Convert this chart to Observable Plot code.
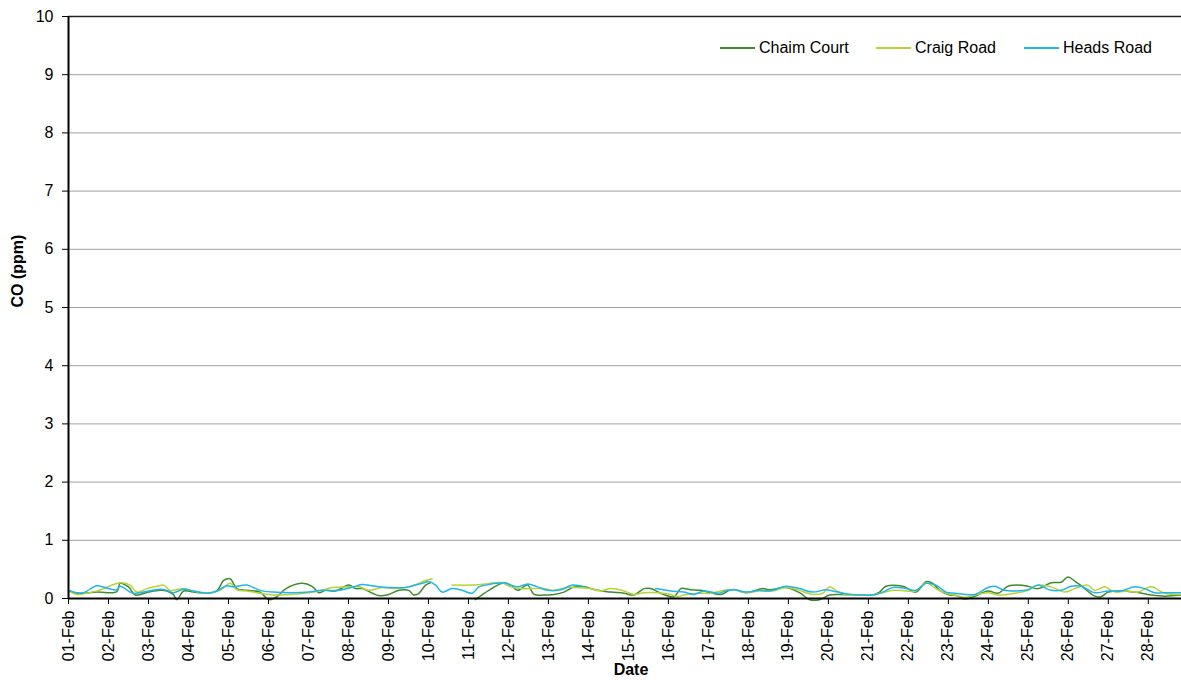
<!DOCTYPE html>
<html><head><meta charset="utf-8">
<script src="https://cdn.jsdelivr.net/npm/d3@7"></script>
<script src="https://cdn.jsdelivr.net/npm/@observablehq/plot@0.6"></script>
<style>
body{margin:0;background:#fff;font-family:"Liberation Sans",Arial,sans-serif;overflow:hidden}
#wrap{position:relative;width:1181px;height:680px}
.leg{position:absolute;top:39px;font-size:16px;line-height:18px;color:#000;display:flex;align-items:center;white-space:nowrap}
.leg .sw{display:inline-block;width:35px;height:0;border-top:2px solid;margin-right:4px}
</style></head><body><div id="wrap"></div>
<script>
// Series names and colours
const seriesNames = ["Chaim Court", "Craig Road", "Heads Road"];
const seriesColors = ["#3e8b2e", "#b6d43a", "#22b4ec"];

// Time in days after 01-Feb 00:00, CO in ppm (null = gap)
const chaimDay = [0,0.21,0.71,1.21,1.29,1.5,1.67,2.0,2.29,2.46,2.62,2.71,2.88,3.12,3.46,3.71,3.88,4.04,4.21,4.46,4.79,5.0,5.21,5.38,5.55,5.84,6.09,6.26,6.43,6.68,7.01,7.18,7.35,7.6,7.76,8.01,8.26,8.51,8.63,8.76,8.93,9.05,9.5,10.17,10.51,10.84,11.06,11.23,11.48,11.64,11.89,12.14,12.39,12.64,12.89,13.23,13.56,13.89,14.14,14.39,14.56,14.81,15.14,15.31,15.56,15.81,16.06,16.31,16.56,16.68,16.94,17.36,17.53,17.94,18.28,18.53,18.78,19.03,19.28,19.78,20.11,20.28,20.44,20.86,21.19,21.44,21.61,21.78,22.03,22.2,22.41,22.66,22.99,23.24,23.49,23.74,23.99,24.24,24.57,24.82,24.99,25.16,25.32,25.66,25.82,25.99,26.32,26.66,27.07,27.41,27.83];
const chaimCO = [0.14,0.09,0.11,0.12,0.26,0.20,0.06,0.11,0.14,0.13,0.07,-0.02,0.13,0.11,0.09,0.13,0.31,0.34,0.17,0.14,0.11,-0.02,0.03,0.14,0.21,0.26,0.21,0.10,0.14,0.13,0.23,0.17,0.17,0.09,0.05,0.07,0.14,0.14,0.06,0.09,0.23,0.27,null,-0.02,0.14,0.26,0.23,0.14,0.23,0.07,0.06,0.07,0.11,0.20,0.20,0.14,0.11,0.09,0.06,0.17,0.17,0.09,0.03,0.17,0.15,0.14,0.10,0.07,0.15,0.15,0.10,0.17,0.15,0.19,0.10,-0.02,-0.02,0.06,0.07,0.06,0.06,0.11,0.21,0.21,0.11,0.29,0.26,0.14,0.06,0.05,-0.01,0.04,0.13,0.09,0.21,0.23,0.21,0.17,0.27,0.28,0.37,0.30,0.22,0.04,0.03,0.11,0.13,0.11,0.06,0.04,0.06];

const craigDay = [0,0.21,0.71,1.29,1.54,1.71,1.96,2.21,2.38,2.54,2.88,3.12,3.46,3.79,4.04,4.21,4.46,4.79,5.12,5.55,6.01,6.34,6.59,7.01,7.26,7.51,7.84,8.18,8.51,8.76,8.93,9.09,9.3,9.59,10.09,10.43,10.84,11.06,11.31,11.56,11.89,12.14,12.48,12.73,13.06,13.31,13.56,13.89,14.14,14.39,14.73,15.06,15.23,15.39,15.73,16.06,16.39,16.65,16.94,17.28,17.61,17.94,18.28,18.61,18.86,19.03,19.19,19.44,19.78,20.11,20.36,20.61,20.94,21.19,21.44,21.69,21.94,22.2,22.41,22.66,22.99,23.24,23.66,23.99,24.24,24.57,24.91,25.16,25.49,25.66,25.91,26.16,26.49,26.74,27.07,27.41,27.83];
const craigCO = [0.13,0.07,0.13,0.27,0.23,0.11,0.17,0.21,0.23,0.14,0.17,0.13,0.09,0.14,0.26,0.15,0.13,0.09,0.06,0.07,0.10,0.14,0.19,0.20,0.20,0.14,0.19,0.17,0.20,0.26,0.31,0.34,null,0.23,0.23,0.25,0.27,0.20,0.17,0.17,0.17,0.14,0.19,0.19,0.17,0.13,0.17,0.13,0.07,0.10,0.10,0.07,0.03,0.06,0.09,0.09,0.14,0.15,0.10,0.13,0.13,0.19,0.14,0.07,0.09,0.20,0.14,0.06,0.06,0.06,0.10,0.14,0.13,0.13,0.27,0.17,0.09,0.05,0.02,0.06,0.10,0.06,0.09,0.14,0.23,0.20,0.11,0.17,0.23,0.14,0.20,0.11,0.13,0.11,0.20,0.09,0.07];

const headsDay = [0,0.21,0.38,0.71,1.0,1.21,1.29,1.62,2.0,2.29,2.46,2.62,2.88,3.12,3.46,3.71,3.96,4.12,4.46,4.79,5.12,5.55,6.01,6.34,6.76,7.18,7.34,7.68,8.01,8.43,8.84,9.01,9.18,9.34,9.59,9.84,10.09,10.26,10.43,10.67,10.93,11.06,11.23,11.48,11.73,11.98,12.31,12.6,12.89,13.8,14.68,15.06,15.39,15.64,15.89,16.23,16.48,16.65,16.94,17.28,17.53,17.94,18.28,18.61,18.94,19.11,19.44,19.78,20.11,20.36,20.61,20.94,21.19,21.44,21.69,21.94,22.16,22.66,22.99,23.16,23.41,23.66,23.99,24.24,24.57,24.82,25.07,25.32,25.66,25.99,26.32,26.66,26.91,27.16,27.49,27.83];
const headsCO = [0.14,0.10,0.10,0.22,0.17,0.15,0.21,0.09,0.13,0.16,0.14,0.10,0.16,0.13,0.09,0.13,0.22,0.20,0.23,0.14,0.11,0.10,0.11,0.14,0.14,0.21,0.24,0.21,0.19,0.19,0.26,0.29,0.23,0.11,0.17,0.14,0.09,0.20,0.23,0.26,0.27,0.23,0.20,0.25,0.20,0.14,0.15,0.23,0.20,null,0.17,0.13,0.11,0.07,0.13,0.09,0.14,0.15,0.11,0.14,0.13,0.21,0.17,0.11,0.15,0.13,0.08,0.06,0.06,0.11,0.19,0.17,0.14,0.26,0.23,0.11,0.09,0.07,0.19,0.21,0.14,0.13,0.15,0.23,0.14,0.14,0.21,0.21,0.10,0.13,0.13,0.20,0.17,0.10,0.10,0.10];

// Axes
const yTicks = [0,1,2,3,4,5,6,7,8,9,10];
const dayTicks = [0,1,2,3,4,5,6,7,8,9,10,11,12,13,14,15,16,17,18,19,20,21,22,23,24,25,26,27];
const xEndDay = 27.83;

const t0 = Date.UTC(2011, 1, 1);
const toDate = d => new Date(t0 + d * 86400000);
const mk = (days, vals) => days.map((d, i) => ({date: toDate(d), co: vals[i]}));
const seriesData = [mk(chaimDay, chaimCO), mk(craigDay, craigCO), mk(headsDay, headsCO)];

const plot = Plot.plot({
  width: 1181, height: 680,
  marginLeft: 68, marginRight: 0, marginTop: 16, marginBottom: 82,
  style: {fontFamily: "'Liberation Sans', Arial, sans-serif", fontSize: "16px", color: "#000", background: "#fff"},
  x: {type: "utc", domain: [toDate(0), toDate(xEndDay)]},
  y: {domain: [0, 10]},
  marks: [
    Plot.ruleY(yTicks.filter(v => v > 0 && v < 10), {stroke: "#a0a0a0", strokeWidth: 1}),
    Plot.ruleY([10], {stroke: "#222", strokeWidth: 1.5}),
    ...seriesData.map((data, i) => Plot.line(data, {x: "date", y: "co", stroke: seriesColors[i], strokeWidth: 1.5, curve: "catmull-rom"})),
    Plot.ruleY([0], {stroke: "#000", strokeWidth: 2}),
    Plot.ruleX([toDate(0)], {stroke: "#000", strokeWidth: 2}),
    Plot.axisY({ticks: yTicks, tickSize: 6, tickPadding: 9, label: null, fontSize: 16, tickFormat: d => String(d)}),
    Plot.axisX({ticks: dayTicks.map(toDate), tickFormat: d3.utcFormat("%d-%b"), tickRotate: -90, tickSize: 6, tickPadding: 6, label: null, fontSize: 16}),
    Plot.text(["CO (ppm)"], {frameAnchor: "left", dx: -51, rotate: -90, fontWeight: "bold", fontSize: 16, fill: "#000"}),
    Plot.text(["Date"], {frameAnchor: "bottom", dx: 6, dy: 76, fontWeight: "bold", fontSize: 16, fill: "#000"})
  ]
});
const wrap = document.getElementById("wrap");
wrap.appendChild(plot);

// Legend
const legLeft = [720, 876, 1024];
seriesNames.forEach((name, i) => {
  const d = document.createElement("div");
  d.className = "leg";
  d.style.left = legLeft[i] + "px";
  d.innerHTML = `<span class="sw" style="border-color:${seriesColors[i]}"></span><span>${name}</span>`;
  wrap.appendChild(d);
});
</script></body></html>
